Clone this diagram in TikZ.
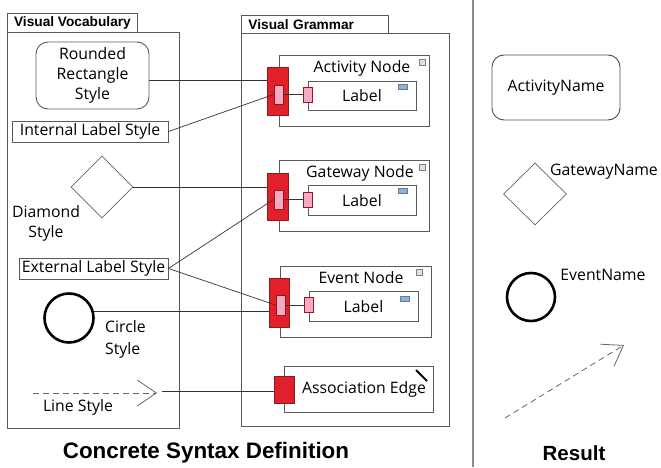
\documentclass[tikz,border=0pt]{standalone}
\usepackage{fontspec}
\setmainfont{Open Sans}
\newfontfamily\titlefont{Liberation Sans}
\usetikzlibrary{shapes.geometric,arrows.meta}
\definecolor{portred}{HTML}{E2202B}
\definecolor{portdark}{HTML}{8E1A1E}
\definecolor{portpink}{HTML}{F6A9C3}
\definecolor{framegray}{HTML}{5A5A5A}
\definecolor{iconblue}{HTML}{8DB3D9}
\tikzset{
  box/.style 2 args={draw=framegray, line width=0.9pt, inner sep=0, minimum width=#1, minimum height=#2},
  bigport/.style 2 args={draw=portdark, fill=portred, line width=0.8pt, inner sep=0, minimum width=#1, minimum height=#2},
  pinkport/.style 2 args={draw=portdark, fill=portpink, line width=0.8pt, inner sep=0, minimum width=#1, minimum height=#2},
  txt/.style={font=\fontsize{15.8}{20}\selectfont, inner sep=0},
  tabtxt/.style={font=\titlefont\bfseries\fontsize{13.7}{15}\selectfont},
  conn/.style={draw=black!80, line width=0.7pt},
  tinyicon/.style={draw=gray, fill=black!12, line width=0.5pt, inner sep=0, minimum size=6},
  labicon/.style={draw=iconblue!70!black, fill=iconblue, line width=0.4pt, inner sep=0, minimum width=9, minimum height=5},
  dasharrow/.style={draw=black!60, line width=0.8pt, dash pattern=on 6pt off 4pt, -{Straight Barb[length=19,width=26,line width=0.8pt]}},
}
\begin{document}
\begin{tikzpicture}[x=1pt,y=-1pt]
\useasboundingbox (0,0) rectangle (661,468);
% ---------- Visual Vocabulary ----------
\node[box={130}{19}, tabtxt, anchor=north west] (vtab) at (7,13) {Visual Vocabulary};
\node[box={172}{396}, anchor=north west] (vframe) at (7,32) {};
\node[box={113}{67}, rounded corners=12, txt, align=center, font=\fontsize{15.8}{20}\selectfont] (rr) at (92.5,75.5) {Rounded\\Rectangle\\Style};
\node[box={156}{21}, txt] (ils) at (90,131.5) {Internal Label Style};
\node[draw=black!60, line width=0.7pt, diamond, minimum width=62, minimum height=62, inner sep=0] (dia) at (102,187) {};
\node[txt, align=center, font=\fontsize{15.8}{20}\selectfont] (diatxt) at (46,223) {Diamond\\Style};
\node[box={149}{21}, txt] (els) at (93.5,268.5) {External Label Style};
\node[draw=black, line width=2.6pt, circle, minimum size=49, inner sep=0] (circ) at (69,318) {};
\node[txt, align=left, anchor=west, font=\fontsize{15.8}{22}\selectfont] (circtxt) at (105,339) {Circle\\Style};
\coordinate (ls1) at (33,393);
\coordinate (ls2) at (157,393);
\draw[dasharrow] (ls1) -- (ls2);
\node[txt] (lstxt) at (78,407) {Line Style};
\coordinate (lsout) at (162,391);
% ---------- Visual Grammar ----------
\node[box={147}{18}, tabtxt, anchor=north west, text width=133, align=left] (gtab) at (241,15) {Visual Grammar};
\node[box={208}{393}, anchor=north west] (gframe) at (241,33) {};
% Activity
\node[box={150}{71}] (anode) at (354,90.5) {};
\node[txt] (atitle) at (362,68) {Activity Node};
\node[tinyicon] (aicon) at (422,62) {};
\node[box={108}{29}] (alabel) at (362,95.5) {};
\node[txt] (altxt) at (362,96) {Label};
\node[labicon] (alicon) at (403,87) {};
\node[bigport={21}{48}] (abig) at (277.5,91) {};
\node[pinkport={9}{19}] (apink) at (278.5,94.5) {};
\node[pinkport={9}{15}] (asmall) at (307.5,94.5) {};
\draw[conn] (apink.east) -- (asmall.west);
% Gateway
\node[box={150}{71}] (gnode) at (354,195.5) {};
\node[txt] (gtitle) at (360,173) {Gateway Node};
\node[tinyicon] (gicon) at (422,167) {};
\node[box={108}{30}] (glabel) at (362,200) {};
\node[txt] (gltxt) at (362,201) {Label};
\node[labicon] (glicon) at (403,191) {};
\node[bigport={21}{47}] (gbig) at (277.5,196.5) {};
\node[pinkport={9}{19}] (gpink) at (278.5,199.5) {};
\node[pinkport={9}{15}] (gsmall) at (307.5,199.5) {};
\draw[conn] (gpink.east) -- (gsmall.west);
% Event
\node[box={151}{71}] (enode) at (355.5,301.5) {};
\node[txt] (etitle) at (361,278) {Event Node};
\node[tinyicon] (eicon) at (419,272) {};
\node[box={109}{30}] (elabel) at (363.5,306) {};
\node[txt] (eltxt) at (363.5,307) {Label};
\node[labicon] (elicon) at (405,299) {};
\node[bigport={20}{49}] (ebig) at (279,302.5) {};
\node[pinkport={9}{20}] (epink) at (280.5,305) {};
\node[pinkport={9}{15}] (esmall) at (308.5,305) {};
\draw[conn] (epink.east) -- (esmall.west);
% Association
\node[box={149}{46}] (asnode) at (358.5,389) {};
\node[txt] (astxt) at (364,389) {Association Edge};
\coordinate (asi1) at (416,370);
\coordinate (asi2) at (427,381);
\draw[line width=1.8pt] (asi1) -- (asi2);
\node[bigport={20}{27}] (asport) at (284,389.5) {};
% ---------- connectors ----------
\path (rr.east) ++(0,4.5) coordinate (rrout);
\draw[conn] (rrout) -- (abig.west |- rrout);
\draw[conn] (ils.east) -- (apink.west);
\draw[conn] (dia.east) -- (gbig.west |- dia.east);
\draw[conn] (els.east) -- (gpink.west);
\draw[conn] (els.east) -- (epink.west);
\draw[conn] (circ.15) -- (ebig.west |- circ.15);
\draw[conn] (lsout) -- (asport.west |- lsout);
% ---------- titles ----------
\node[font=\titlefont\bfseries\fontsize{22.4}{24}\selectfont] (cst) at (206,453) {Concrete Syntax Definition};
% ---------- divider ----------
\coordinate (dv1) at (473,0);
\coordinate (dv2) at (473,467);
\draw[draw=black!45, line width=1.4pt] (dv1) -- (dv2);
% ---------- Result ----------
\node[box={128}{65}, rounded corners=12, txt, draw=black!70] (rrres) at (556,87.5) {ActivityName};
\node[draw=black!60, line width=0.7pt, diamond, minimum width=63, minimum height=62, inner sep=0] (diares) at (535,194) {};
\node[txt] (gwtxt) at (604,172) {GatewayName};
\node[draw=black, line width=2.6pt, circle, minimum size=48, inner sep=0] (circres) at (531,297) {};
\node[txt] (evtxt) at (603,275) {EventName};
\coordinate (ra1) at (505,418);
\coordinate (ra2) at (624,345);
\draw[dasharrow] (ra1) -- (ra2);
\node[font=\titlefont\bfseries\fontsize{20.5}{24}\selectfont] (restxt) at (574,453) {Result};
\end{tikzpicture}
\end{document}
